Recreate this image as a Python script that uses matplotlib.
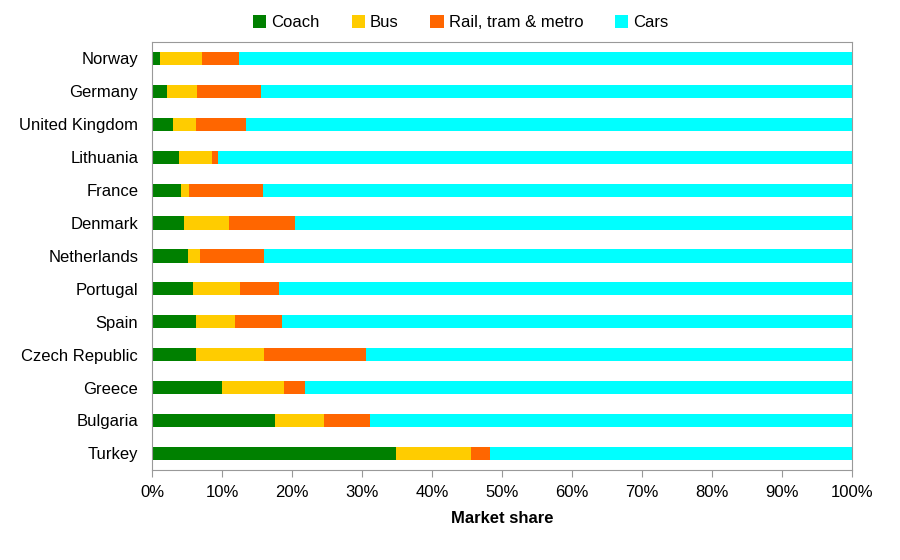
import numpy as np
import matplotlib.pyplot as plt
from matplotlib.ticker import PercentFormatter

plt.rcParams['font.family'] = ['Liberation Sans', 'DejaVu Sans']

# ----- data (percent market share) -----
countries = ["Norway", "Germany", "United Kingdom", "Lithuania", "France", "Denmark",
             "Netherlands", "Portugal", "Spain", "Czech Republic", "Greece",
             "Bulgaria", "Turkey"]
coach = [1.1, 2.1, 3.0, 3.8, 4.1, 4.5, 5.1, 5.8, 6.3, 6.3, 10.0, 17.5, 34.8]
bus = [6.0, 4.3, 3.3, 4.7, 1.1, 6.5, 1.7, 6.8, 5.5, 9.7, 8.9, 7.1, 10.8]
rail = [5.3, 9.2, 7.1, 0.9, 10.7, 9.4, 9.2, 5.5, 6.8, 14.6, 2.9, 6.5, 2.6]
cars = [100 - c - b - r for c, b, r in zip(coach, bus, rail)]

series = [("Coach", coach, "#008000"),
          ("Bus", bus, "#FFCC00"),
          ("Rail, tram & metro", rail, "#FF6600"),
          ("Cars", cars, "#00FFFF")]

fig = plt.figure(figsize=(9, 5.6), dpi=100)
ax = fig.add_axes([0.169, 0.161, 0.778, 0.764])

y = np.arange(len(countries))
left = np.zeros(len(countries))
for name, vals, col in series:
    vals = np.array(vals)
    ax.barh(y, vals, left=left, height=0.4, color=col, label=name)
    left += vals

ax.set_ylim(len(countries) - 0.5, -0.5)
ax.set_xlim(0, 100)
ax.set_yticks(y)
ax.set_yticklabels(countries, fontsize=12)
ax.set_xticks(np.arange(0, 101, 10))
ax.xaxis.set_major_formatter(PercentFormatter(decimals=0))
ax.tick_params(axis='x', labelsize=12, length=5, color="#999999", pad=6)
ax.tick_params(axis='y', length=0, pad=10)
ax.set_xlabel("Market share", fontsize=12, fontweight="bold", labelpad=8)

for s in ax.spines.values():
    s.set_color("#999999")

fig.legend(loc="upper center", bbox_to_anchor=(0.512, 1.0), ncol=4, frameon=False,
           fontsize=12, handlelength=0.8, handleheight=0.8, handletextpad=0.3,
           columnspacing=1.9)

fig.savefig("out.png", dpi=100)
